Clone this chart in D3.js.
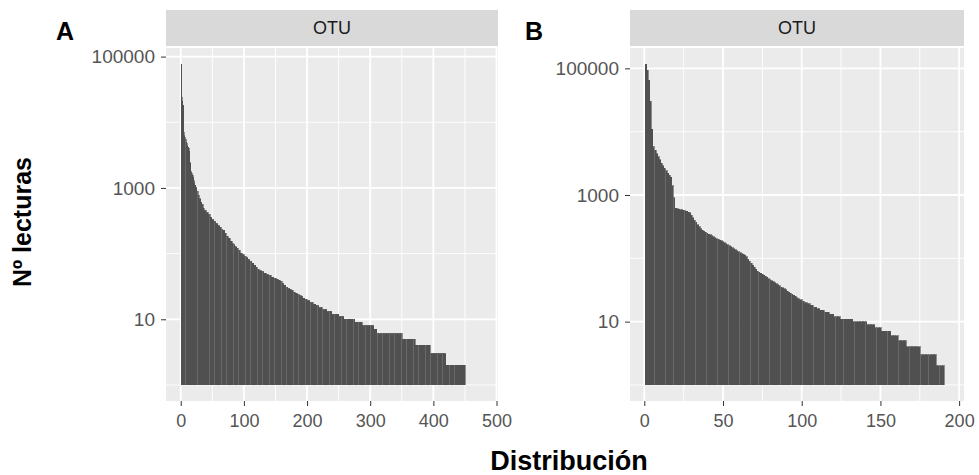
<!DOCTYPE html>
<html lang="es">
<head>
<meta charset="UTF-8">
<title>Nº lecturas por OTU</title>
<script src="https://d3js.org/d3.v7.min.js"></script>
<style>
  body { margin: 0; background: #fff; font-family: "Liberation Sans", Arial, sans-serif; }
  .strip-text { font-size: 18px; fill: #1a1a1a; }
  .axis text { fill: #555; font-family: "Liberation Sans", Arial, sans-serif; }
  .axis.y text { font-size: 19px; }
  .axis.x text { font-size: 18px; }
  .axis line { stroke: #333; }
  .title { font-size: 25px; font-weight: bold; fill: #000; }
</style>
</head>
<body>
<svg width="979" height="475"></svg>
<script>
// Panel A: lecturas por OTU, ordenadas (valor de lecturas, nº de OTUs con ese valor)
const readsA = [77000, 24000, 21000, 18000, 7000, 6200, 5800, 5400, 5000, 4700, 4400, 4200, 4000, 3600, 2400, 1800, 1700, 1650, 1550, 1450, 1300,
  1200, 1100, 1000, 880, 780, 690, 610, 550, 490,
  450, 420, 390, 360, 330, 305, 285, 265, 248, 232,
  225, 205, 185, 170, 155, 142, 136,
  128, 118, 110, 102, 96, 90, 86,
  81, 76, 71, 66, 62, 58, 55,
  53, 50, 48, 46, 44, 42, 41,
  39, 37, 35, 33, 31, 29, 28,
  27, 26, 25, 24, 23, 22, 21,
  20, 19, 18, 17, 16,
  15, 14, 13,
  12, 11, 10, 9, 8, 7, 6, 5, 4, 3, 2, 1];
const otusA = [1, 1, 1, 1, 1, 1, 1, 1, 1, 1, 1, 1, 1, 1, 1, 1, 1, 1, 1, 1, 1,
  1, 1, 2, 2, 2, 2, 2, 2, 2,
  3, 3, 3, 3, 3, 3, 3, 3, 3, 2,
  3, 3, 3, 3, 3, 2, 2,
  3, 3, 3, 3, 3, 3, 3,
  3, 3, 3, 3, 3, 3, 3,
  4, 4, 4, 4, 4, 4, 3,
  3, 3, 3, 3, 3, 3, 3,
  3, 3, 3, 3, 3, 3, 3,
  4, 4, 5, 4, 5,
  6, 7, 8,
  11, 8, 17, 12, 18, 5, 40, 21, 24, 24, 31, 28];

// Panel B
const readsB = [117000, 93000, 65000, 30000, 11000, 5800, 5100, 4500, 4000, 3600, 3200, 2900, 2650, 2400, 2200, 2050, 1900, 1400, 900,
  620, 610, 600, 590, 580, 570, 560, 550, 535, 520,
  480, 440, 400, 370, 340, 315, 295, 280, 268, 257,
  250, 242, 235, 228, 220, 212, 205, 199, 193,
  188, 182, 176, 170, 164, 158, 152, 146, 141, 136, 131, 126, 122, 118, 115, 112,
  105, 97, 90, 84, 78, 72, 67, 63, 60,
  58, 56, 54, 52, 50, 48, 46, 44, 43, 41, 40, 38, 37, 35, 34, 33, 32,
  30, 29, 28, 27, 26, 25, 24, 23, 22, 21, 20, 19, 18, 17, 16, 15, 14, 13, 12,
  11, 10, 9, 8, 7, 6, 5, 4, 3, 2, 1];
const otusB = [1, 1, 1, 1, 1, 1, 1, 1, 1, 1, 1, 1, 1, 1, 1, 1, 1, 1, 1,
  1, 1, 1, 1, 1, 1, 1, 1, 1, 1,
  1, 1, 1, 1, 1, 1, 1, 1, 1, 1,
  1, 1, 1, 1, 1, 1, 1, 1, 1,
  1, 1, 1, 1, 1, 1, 1, 1, 1, 1, 1, 1, 1, 1, 1, 1,
  1, 1, 1, 1, 1, 1, 1, 1, 1,
  1, 1, 1, 1, 1, 1, 1, 1, 1, 1, 1, 1, 1, 1, 1, 1, 1,
  1, 1, 1, 1, 1, 1, 1, 1, 2, 1, 2, 2, 2, 2, 2, 3, 3, 3, 4,
  8, 9, 5, 4, 6, 5, 5, 9, 10, 5, 3];

const xTicksA = [0, 100, 200, 300, 400, 500];
const xTicksB = [0, 50, 100, 150, 200];
const yTicks = [10, 1000, 100000];
const yMinor = [1, 100, 10000];

const svg = d3.select("svg");
const panelTop = 48, panelBottom = 401, stripTop = 10, stripBottom = 46;

const panels = [
  { tag: "A", reads: readsA, otus: otusA, xTicks: xTicksA, x0: 166, x1: 498, tagX: 56 },
  { tag: "B", reads: readsB, otus: otusB, xTicks: xTicksB, x0: 630, x1: 964, tagX: 525 }
];

panels.forEach(p => {
  // expand runs to one value per OTU, in rank order
  const bars = [];
  p.reads.forEach((v, i) => { for (let k = 0; k < p.otus[i]; k++) bars.push(v); });
  const n = bars.length;

  // ggplot-like 5% expansion
  const lo = 0.55, hi = n + 0.45, w = hi - lo;
  const x = d3.scaleLinear().domain([lo - 0.05 * w, hi + 0.05 * w]).range([p.x0, p.x1]);
  const maxL = Math.log10(d3.max(bars));
  const y = d3.scaleLog().domain([Math.pow(10, -0.05 * maxL), Math.pow(10, 1.05 * maxL)]).range([panelBottom, panelTop]);

  const g = svg.append("g");

  g.append("rect")
    .attr("x", p.x0).attr("y", panelTop)
    .attr("width", p.x1 - p.x0).attr("height", panelBottom - panelTop)
    .attr("fill", "#ebebeb");

  // minor grid
  const step = p.xTicks[1] - p.xTicks[0];
  const xMinor = p.xTicks.map(t => t + step / 2).concat([p.xTicks[0] - step / 2])
    .filter(t => t > x.domain()[0] && t < x.domain()[1]);
  g.selectAll(".vminor").data(xMinor).enter().append("line")
    .attr("x1", d => x(d)).attr("x2", d => x(d))
    .attr("y1", panelTop).attr("y2", panelBottom)
    .attr("stroke", "#fff").attr("stroke-width", 0.9);
  g.selectAll(".hminor").data(yMinor).enter().append("line")
    .attr("x1", p.x0).attr("x2", p.x1)
    .attr("y1", d => y(d)).attr("y2", d => y(d))
    .attr("stroke", "#fff").attr("stroke-width", 0.9);

  // major grid
  g.selectAll(".vmajor").data(p.xTicks).enter().append("line")
    .attr("x1", d => x(d)).attr("x2", d => x(d))
    .attr("y1", panelTop).attr("y2", panelBottom)
    .attr("stroke", "#fff").attr("stroke-width", 1.8);
  g.selectAll(".hmajor").data(yTicks).enter().append("line")
    .attr("x1", p.x0).attr("x2", p.x1)
    .attr("y1", d => y(d)).attr("y2", d => y(d))
    .attr("stroke", "#fff").attr("stroke-width", 1.8);

  // bars (thin stroke closes the sub-pixel gaps between neighbours)
  const bw = x(1.9) - x(1);
  g.selectAll(".bar").data(bars).enter().append("rect")
    .attr("x", (d, i) => x(i + 1 - 0.45))
    .attr("width", bw)
    .attr("y", d => y(d))
    .attr("height", d => y(1) - y(d))
    .attr("fill", "#505050")
    .attr("stroke", "#505050")
    .attr("stroke-width", 0.6)
    .attr("shape-rendering", "crispEdges");

  // strip
  g.append("rect")
    .attr("x", p.x0).attr("y", stripTop)
    .attr("width", p.x1 - p.x0).attr("height", stripBottom - stripTop)
    .attr("fill", "#d9d9d9");
  g.append("text")
    .attr("class", "strip-text")
    .attr("x", (p.x0 + p.x1) / 2).attr("y", (stripTop + stripBottom) / 2)
    .attr("dy", "0.35em")
    .attr("text-anchor", "middle")
    .text("OTU");

  // axes
  const yAxis = d3.axisLeft(y).tickValues(yTicks).tickFormat(d3.format("d")).tickSize(5).tickPadding(6);
  g.append("g").attr("class", "axis y")
    .attr("transform", `translate(${p.x0},0)`)
    .call(yAxis)
    .call(a => a.select(".domain").remove());

  const xAxis = d3.axisBottom(x).tickValues(p.xTicks).tickFormat(d3.format("d")).tickSize(5).tickPadding(8);
  g.append("g").attr("class", "axis x")
    .attr("transform", `translate(0,${panelBottom})`)
    .call(xAxis)
    .call(a => a.select(".domain").remove());

  g.append("text")
    .attr("class", "title")
    .attr("x", p.tagX).attr("y", 40)
    .text(p.tag);
});

svg.append("text")
  .attr("class", "title")
  .attr("x", 569).attr("y", 470)
  .attr("text-anchor", "middle")
  .style("font-size", "27px")
  .text("Distribución");

svg.append("text")
  .attr("class", "title")
  .attr("transform", "translate(31,222) rotate(-90)")
  .attr("text-anchor", "middle")
  .text("Nº lecturas");
</script>
</body>
</html>
